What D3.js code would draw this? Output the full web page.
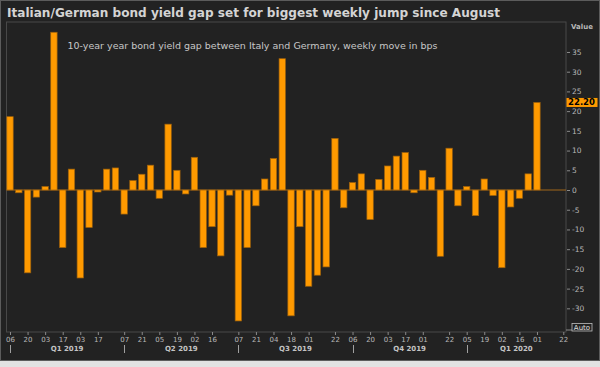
<!DOCTYPE html>
<html><head><meta charset="utf-8">
<script src="https://cdn.jsdelivr.net/npm/d3@7"></script>
<style>body{margin:0;background:#e2e2e2;} svg{display:block;}</style>
</head><body>
<script>
// ---- data ----
const dates = [
 "2019-01-06","2019-01-13","2019-01-20","2019-01-27","2019-02-03","2019-02-10","2019-02-17","2019-02-24",
 "2019-03-03","2019-03-10","2019-03-17","2019-03-24","2019-03-31","2019-04-07","2019-04-14","2019-04-21",
 "2019-04-28","2019-05-05","2019-05-12","2019-05-19","2019-05-26","2019-06-02","2019-06-09","2019-06-16",
 "2019-06-23","2019-06-30","2019-07-07","2019-07-14","2019-07-21","2019-07-28","2019-08-04","2019-08-11",
 "2019-08-18","2019-08-25","2019-09-01","2019-09-08","2019-09-15","2019-09-22","2019-09-29","2019-10-06",
 "2019-10-13","2019-10-20","2019-10-27","2019-11-03","2019-11-10","2019-11-17","2019-11-24","2019-12-01",
 "2019-12-08","2019-12-15","2019-12-22","2019-12-29","2020-01-05","2020-01-12","2020-01-19","2020-01-26",
 "2020-02-02","2020-02-09","2020-02-16","2020-02-23","2020-03-01"];
const values = [
 18.6,-0.7,-21.0,-1.8,0.9,40.0,-14.6,5.3,
 -22.3,-9.5,-0.5,5.3,5.6,-6.1,2.4,4.0,
 6.3,-2.1,16.7,5.0,-1.0,8.3,-14.6,-9.3,
 -16.7,-1.3,-33.2,-14.6,-4.0,2.8,8.0,33.3,
 -31.9,-9.3,-24.4,-21.6,-19.5,13.1,-4.5,1.9,
 4.1,-7.5,2.7,6.1,8.6,9.5,-0.7,5.0,
 3.2,-16.8,10.6,-4.0,0.9,-6.5,2.8,-1.4,
 -19.7,-4.3,-2.1,4.1,22.2];
const tickDates = ["2019-01-06","2019-01-20","2019-02-03","2019-02-17","2019-03-03","2019-03-17",
 "2019-04-07","2019-04-21","2019-05-05","2019-05-19","2019-06-02","2019-06-16",
 "2019-07-07","2019-07-21","2019-08-04","2019-08-18","2019-09-01","2019-09-22",
 "2019-10-06","2019-10-20","2019-11-03","2019-11-17","2019-12-01","2019-12-22",
 "2020-01-05","2020-01-19","2020-02-02","2020-02-16","2020-03-01","2020-03-22"];
const quarterStarts = ["2019-01-06","2019-04-07","2019-07-07","2019-10-06","2020-01-05"];
const quarterLabels = ["Q1 2019","Q2 2019","Q3 2019","Q4 2019","Q1 2020"];
const yTicks = [-30,-25,-20,-15,-10,-5,0,5,10,15,20,25,30,35];
const titleText = "Italian/German bond yield gap set for biggest weekly jump since August";
const subtitleText = "10-year year bond yield gap between Italy and Germany, weekly move in bps";
const lastLabel = "22.20";

// ---- layout ----
const W = 600, H = 367;
const P = {left: 6.5, right: 566, top: 22, bottom: 332};
const DAY = 864e5;
const parse = d3.utcParse("%Y-%m-%d");
const FONT = "'DejaVu Sans', Verdana, sans-serif";

const x = d3.scaleUtc()
  .domain([new Date(+parse("2019-01-06") - 2.8 * DAY), new Date(+parse("2020-03-22") + 2.15 * DAY)])
  .range([P.left, P.right]);
const y = d3.scaleLinear().domain([-36, 42.6]).range([P.bottom, P.top]);

const svg = d3.select("body").append("svg").attr("width", W).attr("height", H);

// background panel
svg.append("rect").attr("x", 0.5).attr("y", 0.5).attr("width", W - 1).attr("height", 360)
  .attr("fill", "#222222").attr("stroke", "#5c5c5c");

// plot frame
svg.append("rect").attr("x", P.left).attr("y", P.top)
  .attr("width", P.right - P.left).attr("height", P.bottom - P.top)
  .attr("fill", "#222222").attr("stroke", "#484848").attr("stroke-width", 1);

// title
const t = svg.append("text").attr("x", 7).attr("y", 17)
  .attr("font-family", FONT).attr("font-weight", "bold").attr("font-size", 12.5)
  .attr("fill", "#d4d4d4").text(titleText);
{ const w = t.node().getComputedTextLength(); if (Math.abs(w - 493) > 3) t.attr("textLength", 493).attr("lengthAdjust", "spacingAndGlyphs"); }

// subtitle
const st = svg.append("text").attr("x", 67.5).attr("y", 49)
  .attr("font-family", FONT).attr("font-size", 9)
  .attr("fill", "#c8c8c8").text(subtitleText);
{ const w = st.node().getComputedTextLength(); if (Math.abs(w - 370) > 3) st.attr("textLength", 370).attr("lengthAdjust", "spacingAndGlyphs"); }

// zero line
svg.append("line").attr("x1", P.left).attr("x2", P.right)
  .attr("y1", y(0)).attr("y2", y(0)).attr("stroke", "#a0661a").attr("stroke-width", 1);

// bars
const bw = 6.4;
svg.append("g").selectAll("rect").data(dates.map((d, i) => ({d: parse(d), v: values[i]})))
  .join("rect")
  .attr("x", d => x(d.d) - bw / 2)
  .attr("y", d => y(Math.max(0, d.v)))
  .attr("width", bw)
  .attr("height", d => Math.abs(y(d.v) - y(0)))
  .attr("fill", "#ff9a00")
  .attr("stroke", "#9a5f0c").attr("stroke-width", 0.7);

// x axis
const xa = svg.append("g").attr("transform", `translate(0,${P.bottom})`)
  .call(d3.axisBottom(x).tickValues(tickDates.map(parse)).tickFormat(d3.utcFormat("%d")).tickSize(3).tickPadding(2));
xa.select(".domain").remove();
xa.selectAll("line").attr("stroke", "#8a8a8a");
xa.selectAll("text").attr("fill", "#b8b8b8").attr("font-family", FONT).attr("font-size", 7);

// quarter separators and labels
const qs = quarterStarts.map(parse);
svg.append("g").selectAll("line").data(qs).join("line")
  .attr("x1", d => Math.round(x(d)) + 0.5).attr("x2", d => Math.round(x(d)) + 0.5)
  .attr("y1", 345).attr("y2", 353).attr("stroke", "#a0a0a0");
svg.append("g").selectAll("text").data(quarterLabels).join("text")
  .attr("x", (d, i) => { const a = x(qs[i]); const b = i < qs.length - 1 ? x(qs[i + 1]) : P.right; return (a + b) / 2; })
  .attr("y", 351).attr("text-anchor", "middle")
  .attr("font-family", FONT).attr("font-weight", "bold").attr("font-size", 7)
  .attr("fill", "#c4c4c4").text(d => d);

// y axis (right)
const ya = svg.append("g").attr("transform", `translate(${P.right + 1},0)`)
  .call(d3.axisRight(y).tickValues(yTicks).tickFormat(d => String(d)).tickSize(3).tickPadding(2));
ya.select(".domain").remove();
ya.selectAll("line").attr("stroke", "#8a8a8a");
ya.selectAll("text").attr("fill", "#b8b8b8").attr("font-family", FONT).attr("font-size", 7.5);

// "Value" header
svg.append("text").attr("x", 571).attr("y", 29)
  .attr("font-family", FONT).attr("font-weight", "bold").attr("font-size", 7)
  .attr("fill", "#b8b8b8").text("Value");

// last value label
const lv = values[values.length - 1];
svg.append("rect").attr("x", 566.5).attr("y", y(lv) - 4.5).attr("width", 31).attr("height", 9)
  .attr("fill", "#ff9a00");
svg.append("text").attr("x", 568).attr("y", y(lv) + 3)
  .attr("font-family", FONT).attr("font-weight", "bold").attr("font-size", 8)
  .attr("textLength", 27).attr("lengthAdjust", "spacingAndGlyphs")
  .attr("fill", "#000").text(lastLabel);

// Auto box
svg.append("line").attr("x1", P.right).attr("x2", 572).attr("y1", 330).attr("y2", 330).attr("stroke", "#8a8a8a");
svg.append("rect").attr("x", 572).attr("y", 323.5).attr("width", 20).attr("height", 7.5)
  .attr("fill", "#222").attr("stroke", "#bdbdbd").attr("stroke-width", 0.8);
svg.append("text").attr("x", 582).attr("y", 330).attr("text-anchor", "middle")
  .attr("font-family", FONT).attr("font-size", 7)
  .attr("fill", "#e0e0e0").text("Auto");
</script>
</body></html>
